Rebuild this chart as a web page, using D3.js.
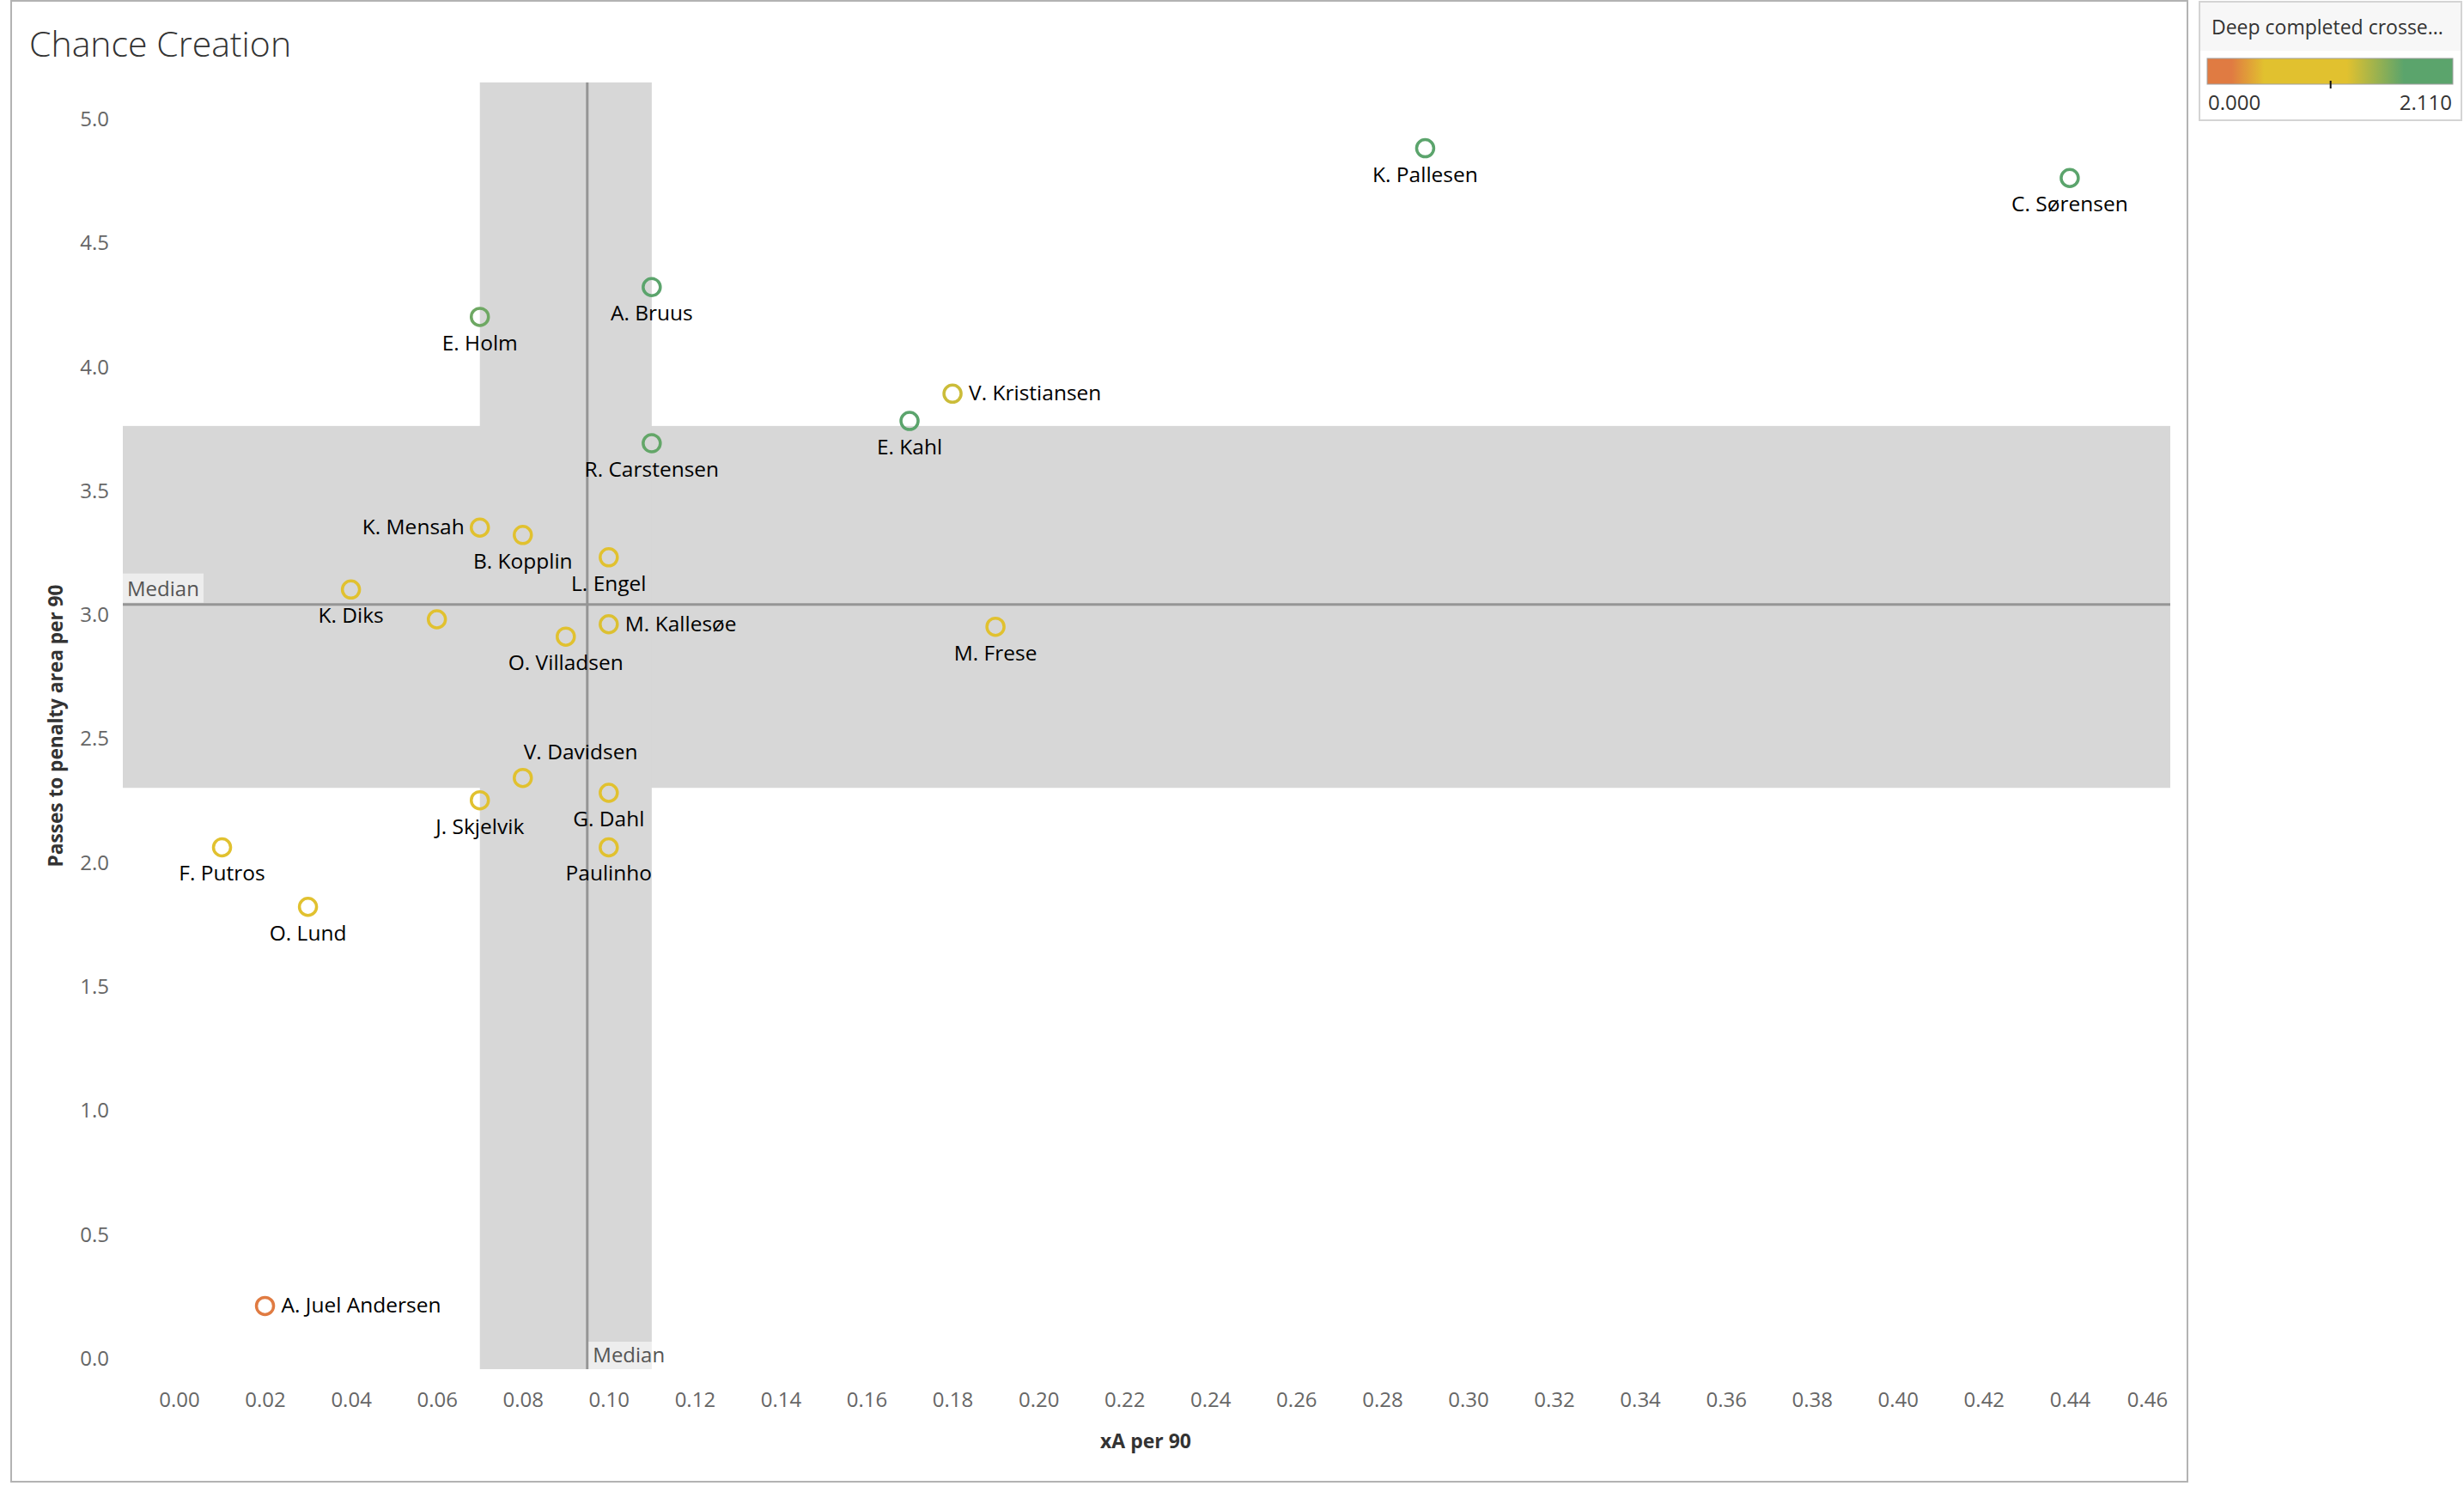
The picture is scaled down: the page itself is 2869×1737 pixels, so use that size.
<!DOCTYPE html>
<html><head><meta charset="utf-8">
<script src="https://cdn.jsdelivr.net/npm/d3@7"></script>
<style>
html,body{margin:0;padding:0;background:#fff;}
svg{display:block;font-family:"Open Sans",sans-serif;}
</style></head>
<body>
<svg id="chart" width="2869" height="1737"></svg>
<script>
// ---- data ----
const players = ["K. Pallesen","C. Sørensen","A. Bruus","E. Holm","V. Kristiansen","E. Kahl","R. Carstensen",
  "K. Mensah","B. Kopplin","L. Engel","K. Diks","","M. Kallesøe","O. Villadsen","M. Frese",
  "V. Davidsen","G. Dahl","J. Skjelvik","Paulinho","F. Putros","O. Lund","A. Juel Andersen"];
const xAPer90 = [0.29,0.44,0.11,0.07,0.18,0.17,0.11,
  0.07,0.08,0.10,0.04,0.06,0.10,0.09,0.19,
  0.08,0.10,0.07,0.10,0.01,0.03,0.02];
const passesPer90 = [4.88,4.76,4.32,4.20,3.89,3.78,3.69,
  3.35,3.32,3.23,3.10,2.98,2.96,2.91,2.95,
  2.34,2.28,2.25,2.06,2.06,1.82,0.21];
const deepCrosses = [2.00,2.11,1.90,1.62,1.28,1.80,1.66,
  0.90,0.80,0.90,0.80,0.90,1.22,0.80,0.90,
  0.80,0.90,0.70,0.80,0.70,0.80,0.00];
const xTicks = d3.range(0, 0.4601, 0.02);
const yTicks = d3.range(0, 5.01, 0.5);
const xMedian = 0.095, xBand = [0.07, 0.11];
const yMedian = 3.04, yBand = [2.3, 3.76];
const legendDomain = [0, 2.11];

// label placement (layout only)
const place = {
  "V. Kristiansen":"right","M. Kallesøe":"right","A. Juel Andersen":"right",
  "K. Mensah":"left","V. Davidsen":"aboveRight"
};

const svg = d3.select("#chart");
const L = 143, R = 2527, T = 96, B = 1594;

const x = d3.scaleLinear().domain([-0.01309, 0.4634]).range([L, R]);
const y = d3.scaleLinear().domain([-0.045, 5.1455]).range([B, T]);

const cOrange = "#e07b42", cYellow = "#e1c12f", cGreen = "#5ba46c";
const color = d3.scaleLinear()
  .domain([0, 0.21, 0.49, 1.2, 1.69, 2.11])
  .range([cOrange, cOrange, cYellow, cYellow, cGreen, cGreen]).clamp(true);

// outer frame
svg.append("rect").attr("x",13).attr("y",1).attr("width",2534).attr("height",1724)
  .attr("fill","none").attr("stroke","#b3b3b3").attr("stroke-width",2);

// title
svg.append("text").attr("x",34).attr("y",66).text("Chance Creation")
  .attr("font-size",41).attr("font-weight",300).attr("fill","#333");

// bands
const bandColor = "#d7d7d7";
svg.append("rect").attr("x",L).attr("y",y(yBand[1])).attr("width",R-L)
  .attr("height",y(yBand[0])-y(yBand[1])).attr("fill",bandColor);
svg.append("rect").attr("x",x(xBand[0])).attr("y",T).attr("width",x(xBand[1])-x(xBand[0]))
  .attr("height",B-T).attr("fill",bandColor);

// median lines
svg.append("line").attr("x1",L).attr("x2",R).attr("y1",y(yMedian)).attr("y2",y(yMedian))
  .attr("stroke","#959595").attr("stroke-width",3);
svg.append("line").attr("x1",x(xMedian)).attr("x2",x(xMedian)).attr("y1",T).attr("y2",B)
  .attr("stroke","#959595").attr("stroke-width",3);

// median labels
function medianLabel(x0, yTop, h){
  const g = svg.append("g");
  g.append("rect").attr("x",x0).attr("y",yTop).attr("width",94).attr("height",h)
    .attr("fill","rgba(255,255,255,0.55)");
  g.append("text").attr("x",x0+5).attr("y",yTop+h-8).text("Median")
    .attr("font-size",24).attr("fill","#555");
}
medianLabel(L, y(yMedian)-36, 34);
medianLabel(x(xMedian)+1.5, B-32, 32);

// axes
const xAxis = d3.axisBottom(x).tickValues(xTicks).tickFormat(d3.format(".2f")).tickSize(0).tickPadding(0);
const gx = svg.append("g").attr("transform",`translate(0,1638)`).call(xAxis);
gx.select(".domain").remove();
gx.selectAll("text").attr("font-size",24).attr("fill","#666").attr("font-family","Open Sans").attr("dy",0)
  .attr("x", d => d > 0.455 ? -10 : 0);

const yAxis = d3.axisLeft(y).tickValues(yTicks).tickFormat(d3.format(".1f")).tickSize(0).tickPadding(0);
const gy = svg.append("g").attr("transform",`translate(127,0)`).call(yAxis);
gy.select(".domain").remove();
gy.selectAll("text").attr("font-size",24).attr("fill","#666").attr("font-family","Open Sans").attr("dy","0.35em");

// axis titles
svg.append("text").attr("x",1334).attr("y",1686).attr("text-anchor","middle")
  .text("xA per 90").attr("font-size",23).attr("font-weight",700).attr("fill","#333")
  .attr("textLength",106).attr("lengthAdjust","spacingAndGlyphs");
svg.append("text").attr("transform","translate(73,845) rotate(-90)").attr("text-anchor","middle")
  .text("Passes to penalty area per 90").attr("font-size",23).attr("font-weight",700).attr("fill","#333")
  .attr("textLength",329).attr("lengthAdjust","spacingAndGlyphs");

// points
const data = players.map((p,i)=>({name:p, xa:xAPer90[i], pa:passesPer90[i], dc:deepCrosses[i]}));
svg.append("g").selectAll("circle").data(data).join("circle")
  .attr("cx",d=>x(d.xa)).attr("cy",d=>y(d.pa)).attr("r",10)
  .attr("fill","none").attr("stroke",d=>color(d.dc)).attr("stroke-width",3.5);

// labels
svg.append("g").selectAll("text").data(data.filter(d=>d.name)).join("text")
  .each(function(d){
    const t = d3.select(this);
    const px = x(d.xa), py = y(d.pa);
    const p = place[d.name] || "below";
    if (p === "below") t.attr("x",px).attr("y",py+39).attr("text-anchor","middle");
    else if (p === "right") t.attr("x",px+19).attr("y",py+8).attr("text-anchor","start");
    else if (p === "left") t.attr("x",px-18).attr("y",py+8).attr("text-anchor","end");
    else t.attr("x",px+1).attr("y",py-22).attr("text-anchor","start");
  })
  .text(d=>d.name).attr("font-size",24.5).attr("font-weight",500).attr("fill","#000");

// legend
const lg = svg.append("g");
lg.append("rect").attr("x",2561).attr("y",2).attr("width",305).attr("height",138)
  .attr("fill","#fff").attr("stroke","#d4d4d4").attr("stroke-width",2);
lg.append("rect").attr("x",2562).attr("y",3).attr("width",303).attr("height",56).attr("fill","#f7f7f7");
lg.append("text").attr("x",2575).attr("y",40).text("Deep completed crosse...")
  .attr("font-size",23).attr("fill","#333");
const defs = svg.append("defs");
const grad = defs.append("linearGradient").attr("id","lgGrad");
color.domain().forEach(v=>{
  grad.append("stop").attr("offset",(v/legendDomain[1]*100)+"%").attr("stop-color",color(v));
});
const lx = d3.scaleLinear().domain(legendDomain).range([2570,2856]);
lg.append("rect").attr("x",lx(0)).attr("y",68).attr("width",lx(2.11)-lx(0)).attr("height",30)
  .attr("fill","url(#lgGrad)").attr("stroke","#a0a0a0").attr("stroke-width",1);
lg.append("line").attr("x1",lx(1.06)).attr("x2",lx(1.06)).attr("y1",94).attr("y2",103)
  .attr("stroke","#111").attr("stroke-width",2);
lg.append("text").attr("x",2571).attr("y",128).text(d3.format(".3f")(legendDomain[0]))
  .attr("font-size",24).attr("fill","#333");
lg.append("text").attr("x",2855).attr("y",128).attr("text-anchor","end").text(d3.format(".3f")(legendDomain[1]))
  .attr("font-size",24).attr("fill","#333");
</script>
</body></html>
